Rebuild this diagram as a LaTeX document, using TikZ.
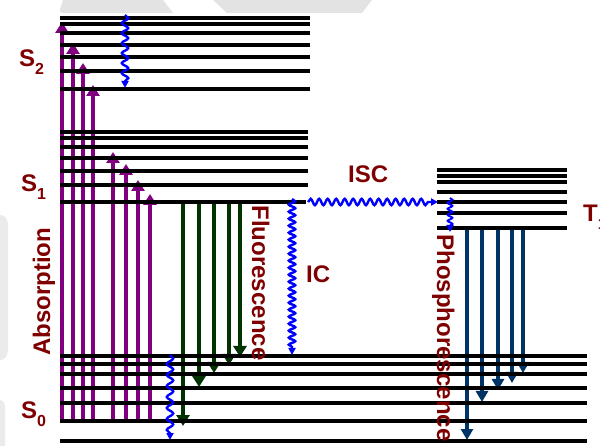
\documentclass[tikz,border=0pt]{standalone}
\usepackage{fontspec}
\setmainfont{Liberation Sans}
\usetikzlibrary{arrows.meta,decorations.pathmorphing}
\definecolor{lblred}{HTML}{7F0000}
\definecolor{absorb}{HTML}{800080}
\definecolor{fluor}{HTML}{003300}
\definecolor{phos}{HTML}{003366}
\definecolor{relax}{HTML}{0000FF}
\definecolor{wmgray}{HTML}{E3E3E3}
\tikzset{
  lvl/.style={line width=3.4pt, black},
  absarrow/.style={draw=absorb, line width=3.4pt, -{Triangle[width=13pt,length=11pt]}},
  fluarrow/.style={draw=fluor, line width=4.2pt, -{Triangle[width=13pt,length=11pt]}},
  phosarrow/.style={draw=phos, line width=4.2pt, -{Triangle[width=12pt,length=11pt]}},
  wavy/.style={draw=relax, line width=2.4pt, decorate,
    decoration={snake, amplitude=3.2pt, segment length=#1, post length=6pt},
    -{Triangle[width=7pt,length=7pt]}},
  wavy/.default=8pt,
  lbl/.style={text=lblred, font=\bfseries\fontsize{24}{24}\selectfont, inner sep=0pt},
}
\newcommand{\stlabel}[2]{#1\raisebox{-8pt}{\fontsize{16}{16}\selectfont #2}}
\begin{document}
\begin{tikzpicture}[x=1pt,y=-1pt]
\useasboundingbox (0,0) rectangle (600,446);
\clip (0,0) rectangle (600,446);

% faint background shapes
\fill[wmgray] (63,0) -- (163,0) -- (173,13) -- (62,13) to[out=180,in=260] cycle;
\fill[wmgray] (213,0) -- (372,0) -- (362,13) -- (227,13) -- cycle;
\fill[wmgray!70] (0,215) to[out=0,in=90] (8,240) -- (8,335) to[out=-90,in=0] (0,360) -- cycle;
\fill[wmgray!70] (0,400) to[out=0,in=90] (5,415) -- (5,446) -- (0,446) -- cycle;

% absorption from the lowest S0 level
\foreach \x/\t in {62/22,73/43,83/63,93/85,113/152,126/164,138/180,150/194}
  \draw[absarrow] (\x,421) coordinate (a\x) -- (\x,\t) coordinate (b\x);

% fluorescence from the lowest S1 level
\foreach \x/\t in {183/426,199/387,214/373,229/365,240/357}
  \draw[fluarrow] (\x,201) coordinate (f\x) -- (\x,\t) coordinate (g\x);

% phosphorescence from the lowest T1 level
\foreach \x/\t in {467/440,482/402,498/390,512/383,523/373}
  \draw[phosarrow] (\x,228) coordinate (p\x) -- (\x,\t) coordinate (q\x);

% vibrational levels
\foreach \y in {18,24,33,45,57,71,89} \draw[lvl] (60,\y) -- (310,\y);
\foreach \y in {132,138,147,158,171,185} \draw[lvl] (60,\y) -- (308,\y);
\draw[lvl] (60,202) -- (306,202);
\foreach \y in {356,364,374,388,403,421,441} \draw[lvl] (60,\y) -- (587,\y);
\foreach \y in {170,176,182,192,202,213,228} \draw[lvl] (437,\y) -- (567,\y);

% radiationless transitions
\coordinate (vrS2a) at (125,15);  \coordinate (vrS2b) at (125,88);
\coordinate (vrS0a) at (170,355); \coordinate (vrS0b) at (170,440);
\coordinate (ICa)   at (292,199); \coordinate (ICb)   at (292,355);
\coordinate (ISCa)  at (308,202); \coordinate (ISCb)  at (438,202);
\coordinate (vrTa)  at (450,198); \coordinate (vrTb)  at (450,232);
\draw[wavy=10pt] (vrS2a) -- (vrS2b);
\draw[wavy=11pt] (vrS0a) -- (vrS0b);
\draw[wavy=7pt]  (ICa) -- (ICb);
\draw[wavy=8.5pt] (ISCa) -- (ISCb);
\draw[wavy=6pt, line width=2pt, decoration={amplitude=2.4pt, post length=5pt}] (vrTa) -- (vrTb);

% labels
\node[lbl, anchor=base west] (S2) at (19,67)  {\stlabel{S}{2}};
\node[lbl, anchor=base west] (S1) at (21,192) {\stlabel{S}{1}};
\node[lbl, anchor=base west] (S0) at (21,418) {\stlabel{S}{0}};
\node[lbl, anchor=base west] (T1) at (583,222) {\stlabel{T}{1}};
\node[lbl, anchor=base west] (ISC) at (348,183) {ISC};
\node[lbl, anchor=base west] (IC) at (306,283) {IC};
\node[lbl, anchor=base, rotate=90]  (abs) at (50,292)  {Absorption};
\node[lbl, anchor=base, rotate=-90] (flu) at (252,283) {Fluorescence};
\node[lbl, anchor=base, rotate=-90] (pho) at (437,338) {Phosphorescence};
\end{tikzpicture}
\end{document}
